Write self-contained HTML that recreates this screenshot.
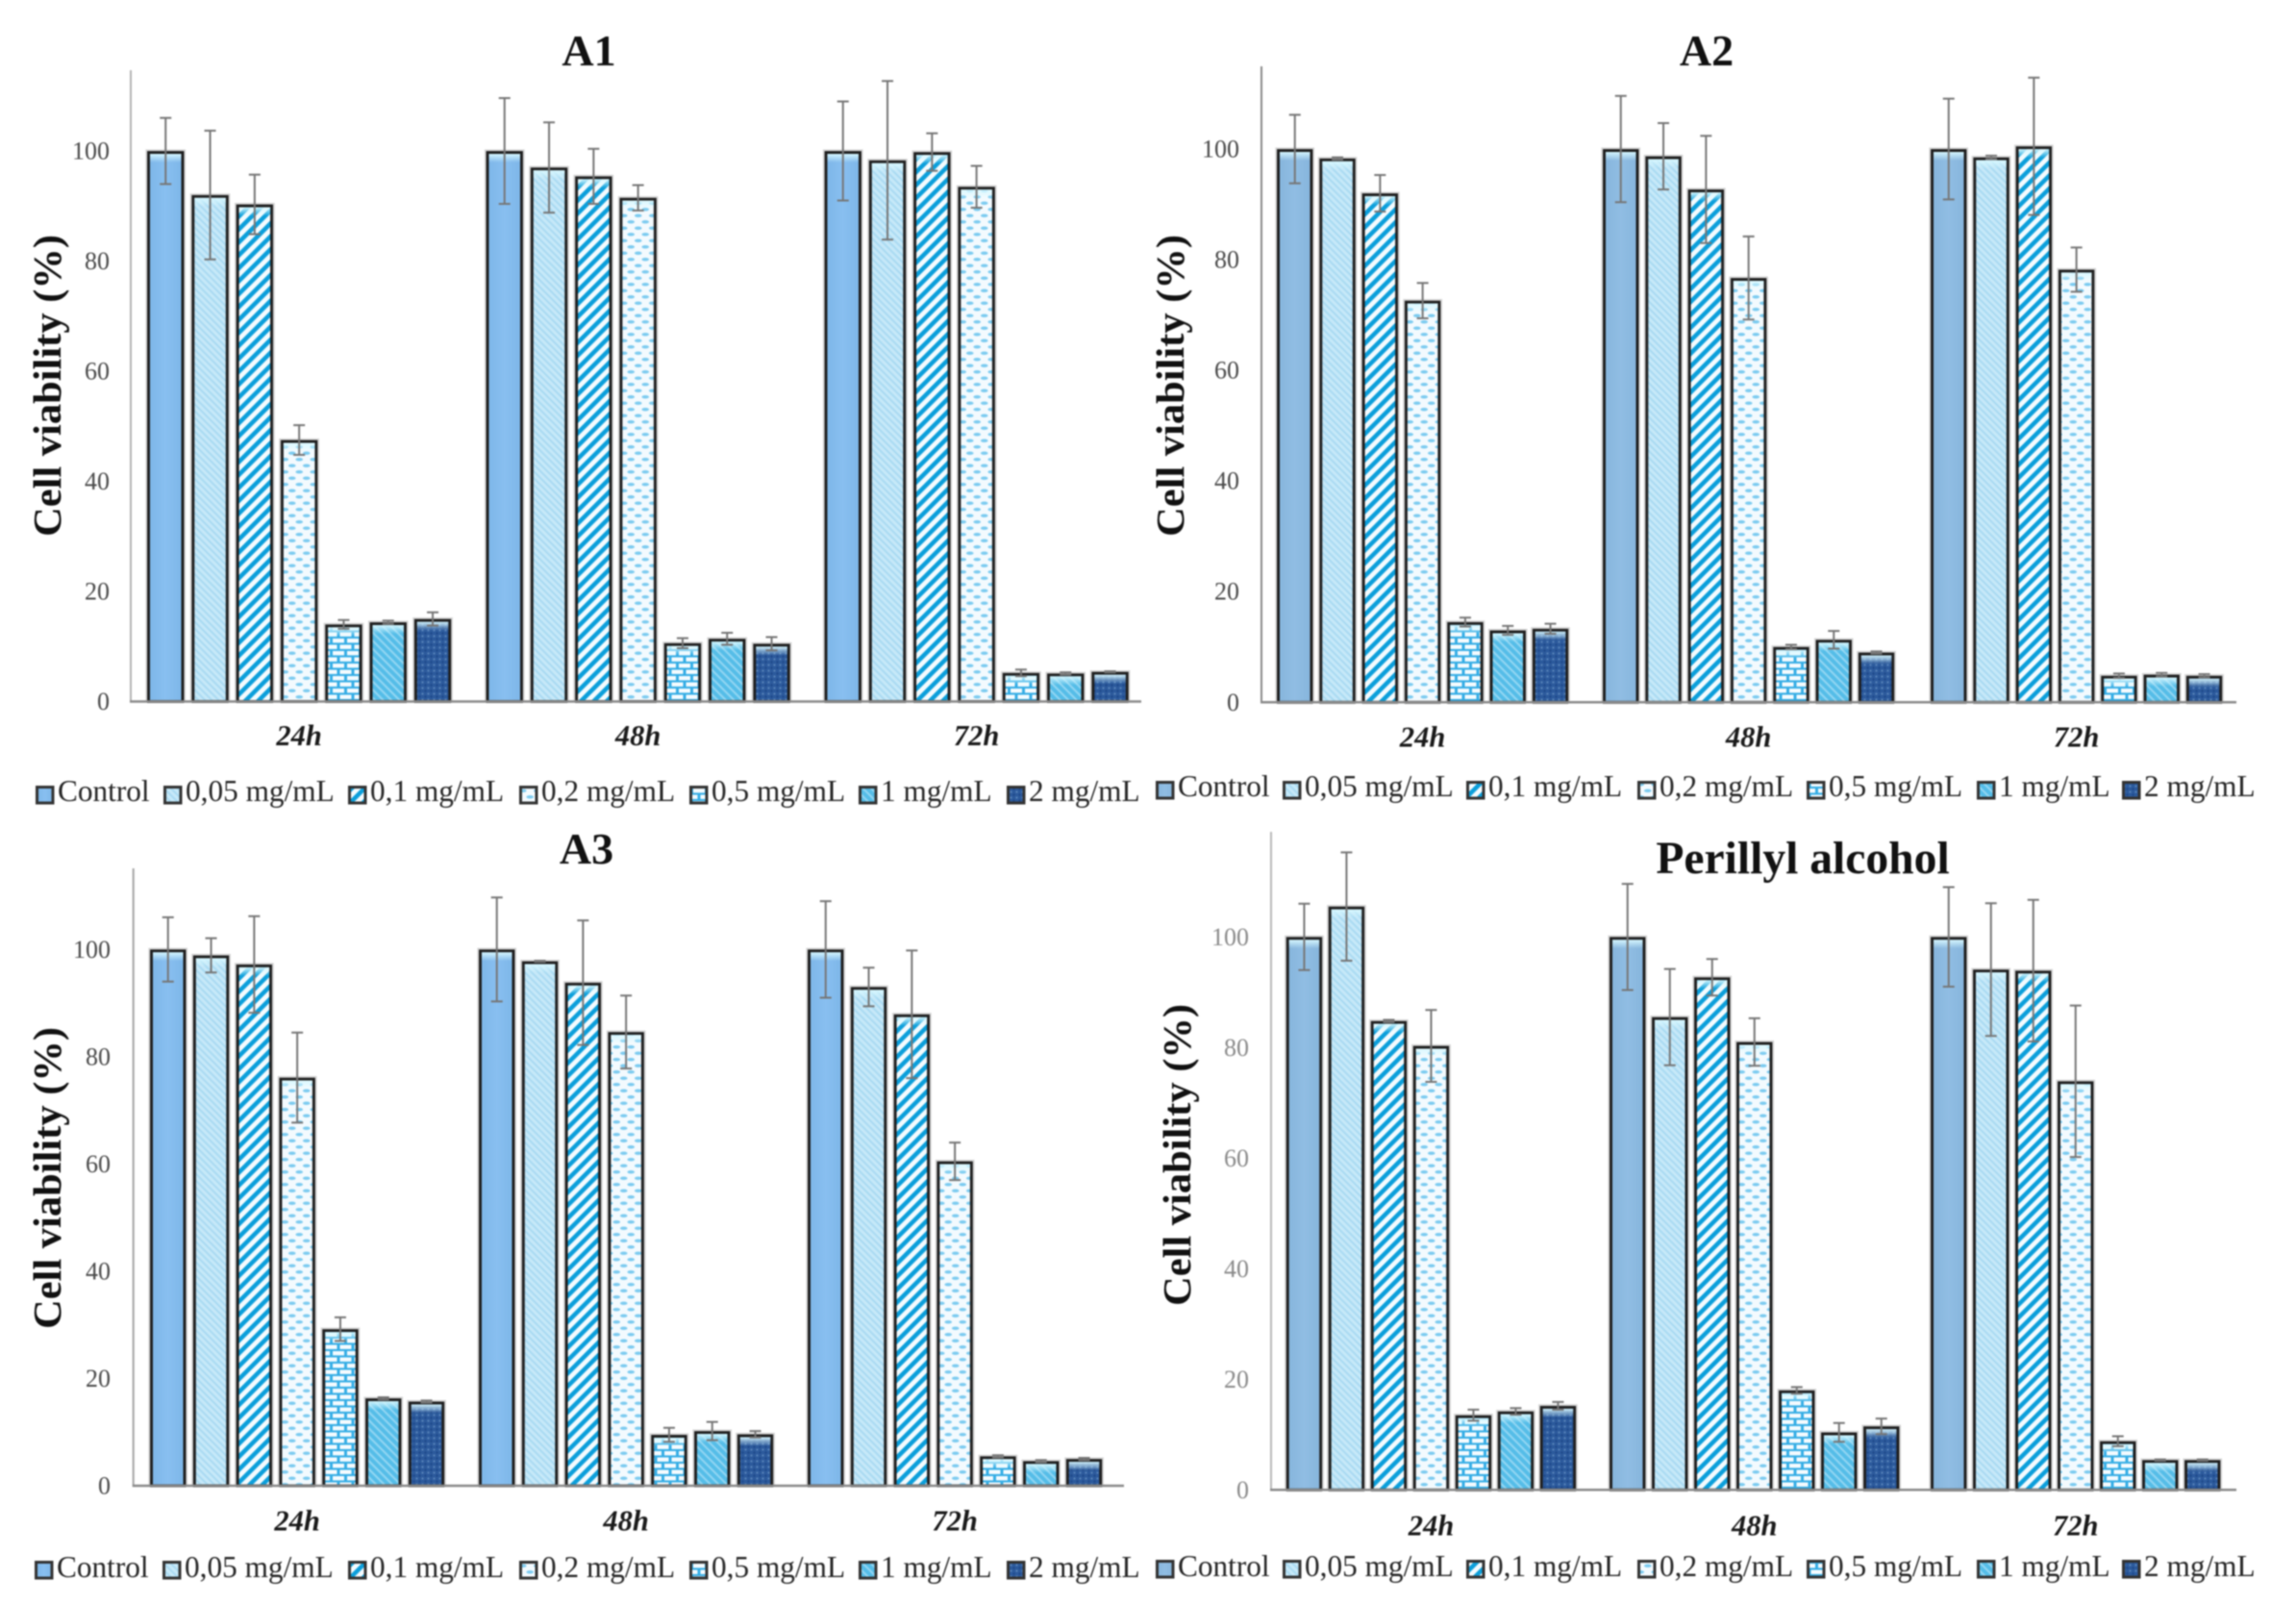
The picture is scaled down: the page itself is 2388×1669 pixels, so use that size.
<!DOCTYPE html>
<html lang="en">
<head>
<meta charset="utf-8">
<title>Cell viability charts</title>
<style>
html,body{margin:0;padding:0;background:#fff;}
#figure{display:block;filter:blur(0.8px);}
text{font-family:"Liberation Serif",serif;}
</style>
</head>
<body>
<svg id="figure" xmlns="http://www.w3.org/2000/svg" width="2388" height="1669" viewBox="0 0 2388 1669">
<defs>
<linearGradient id="control-a"><stop offset="0" stop-color="#7DB6E8"/><stop offset="0.5" stop-color="#88BFF0"/><stop offset="1" stop-color="#7DB6E8"/></linearGradient>
<linearGradient id="control-b"><stop offset="0" stop-color="#86B5DC"/><stop offset="0.5" stop-color="#90BDE3"/><stop offset="1" stop-color="#86B5DC"/></linearGradient>
<linearGradient id="top-glow" x1="0" y1="0" x2="0" y2="1"><stop offset="0" stop-color="#D8F8FF" stop-opacity="0.95"/><stop offset="1" stop-color="#D8F8FF" stop-opacity="0"/></linearGradient>
<pattern id="fill-s1" patternUnits="userSpaceOnUse" width="5" height="5" patternTransform="rotate(-45)"><rect width="5" height="5" fill="#C6E8F8"/><rect width="2" height="5" fill="#A9DAF2"/></pattern>
<pattern id="fill-s2" patternUnits="userSpaceOnUse" width="9.5" height="9.5" patternTransform="rotate(45)"><rect width="9.5" height="9.5" fill="#F4FBFE"/><rect width="4.6" height="9.5" fill="#0C9FDB"/></pattern>
<pattern id="fill-s3" patternUnits="userSpaceOnUse" width="15" height="13"><rect width="15" height="13" fill="#F3FAFE"/><ellipse cx="3.75" cy="3.25" rx="3.8" ry="1.8" fill="#7CCBF0"/><ellipse cx="11.25" cy="9.75" rx="3.8" ry="1.8" fill="#7CCBF0"/></pattern>
<pattern id="fill-s4" patternUnits="userSpaceOnUse" width="15" height="13"><rect width="15" height="13" fill="#35ADE5"/><rect x="1" y="1" width="12" height="4.4" fill="#F4FBFE"/><rect x="8.5" y="7.5" width="12" height="4.4" fill="#F4FBFE"/><rect x="-6.5" y="7.5" width="12" height="4.4" fill="#F4FBFE"/></pattern>
<pattern id="fill-s5" patternUnits="userSpaceOnUse" width="6" height="6" patternTransform="rotate(-45)"><rect width="6" height="6" fill="#55BDE8"/><rect width="2" height="6" fill="#93D6F2"/></pattern>
<pattern id="fill-s6" patternUnits="userSpaceOnUse" width="6" height="6"><rect width="6" height="6" fill="#2C5A9C"/><circle cx="1.5" cy="1.5" r="1.1" fill="#5A86BC"/><circle cx="4.5" cy="4.5" r="1.1" fill="#1D4688"/></pattern>
</defs>
</svg>
<script>
const categories = ['24h', '48h', '72h'];
const seriesNames = ['Control', '0,05 mg/mL', '0,1 mg/mL', '0,2 mg/mL', '0,5 mg/mL', '1 mg/mL', '2 mg/mL'];
const yTicks = [0, 20, 40, 60, 80, 100];

const a1Values = [
  [100, 92, 90.3, 47.5, 14, 14.4, 15],
  [100, 97, 95.4, 91.5, 10.6, 11.4, 10.5],
  [100, 98.3, 99.8, 93.5, 5.2, 5.1, 5.4]
];
const a1Errors = [
  [6, 11.7, 5.4, 2.7, 0.8, 0.3, 1.2],
  [9.6, 8.2, 5, 2.3, 0.9, 1.1, 1.2],
  [9, 14.4, 3.4, 3.8, 0.6, 0.2, 0.1]
];
const a2Values = [
  [100, 98.3, 92, 72.6, 14.5, 13, 13.3],
  [100, 98.7, 92.7, 76.7, 10, 11.3, 9],
  [100, 98.5, 100.5, 78.2, 4.8, 5, 4.8]
];
const a2Errors = [
  [6.2, 0.2, 3.3, 3.2, 0.8, 0.8, 0.9],
  [9.6, 6, 9.7, 7.5, 0.4, 1.6, 0.2],
  [9.1, 0.3, 12.4, 4, 0.4, 0.3, 0.3]
];
const a3Values = [
  [100, 98.9, 97.2, 76.1, 29.2, 16.3, 15.7],
  [100, 97.8, 93.8, 84.6, 9.5, 10.2, 9.6],
  [100, 93, 87.9, 60.5, 5.5, 4.6, 5]
];
const a3Errors = [
  [6, 3.2, 9, 8.4, 2.2, 0.2, 0.2],
  [9.7, 0.1, 11.6, 6.8, 1.3, 1.7, 0.6],
  [9, 3.6, 11.9, 3.5, 0.2, 0.2, 0.2]
];
const paValues = [
  [100, 105.5, 84.8, 80.3, 13.5, 14.2, 15.2],
  [100, 85.5, 92.7, 81, 18, 10.4, 11.5],
  [100, 94.1, 93.9, 73.9, 8.8, 5.4, 5.4]
];
const paErrors = [
  [6, 9.8, 0.2, 6.5, 1, 0.6, 0.7],
  [9.6, 8.7, 3.3, 4.3, 0.6, 1.7, 1.4],
  [9, 12, 12.8, 13.7, 0.9, 0.1, 0.1]
];

const panels = [
  {id:'a1', title:'A1', titleSize:46, values:a1Values, errors:a1Errors,
   axisX:136, axisTop:73, axisRight:1187, baseY:729.5, unit:5.725,
   groupX:[153,505.5,857.5], barPitch:46.3, barW:38.5,
   titleX:612.5, titleY:68, tickX:114, tickFill:'#4a4a4a', axisFill:'#b4b4b4',
   yTitleX:63, yTitleY:558, catY:775, legendX:[37,170,362,540,717,893,1047], legendY:817, legendText:833, control:'url(#control-a)'},
  {id:'a2', title:'A2', titleSize:46, values:a2Values, errors:a2Errors,
   axisX:1312, axisTop:69, axisRight:2326, baseY:730.3, unit:5.753,
   groupX:[1328,1667,2008], barPitch:44.3, barW:37.5,
   titleX:1775, titleY:68, tickX:1289, tickFill:'#4a4a4a', axisFill:'#8a8a8a',
   yTitleX:1231, yTitleY:558, catY:776.7, legendX:[1202,1334,1525,1703,1879,2056,2207], legendY:812, legendText:828, control:'url(#control-b)'},
  {id:'a3', title:'A3', titleSize:46, values:a3Values, errors:a3Errors,
   axisX:138.7, axisTop:903, axisRight:1169, baseY:1545, unit:5.577,
   groupX:[156,498,840], barPitch:44.8, barW:37.5,
   titleX:610, titleY:898, tickX:115, tickFill:'#4a4a4a', axisFill:'#a4a4a4',
   yTitleX:63, yTitleY:1382, catY:1591.7, legendX:[36,169,362,540,717,893,1047], legendY:1623, legendText:1640, control:'url(#control-a)'},
  {id:'pa', title:'Perillyl alcohol', titleSize:47.6, values:paValues, errors:paErrors,
   axisX:1322, axisTop:865, axisRight:2326, baseY:1549.3, unit:5.75,
   groupX:[1337.7,1674,2008], barPitch:44, barW:37.5,
   titleX:1875, titleY:908, tickX:1299, tickFill:'#8a8a8a', axisFill:'#b8b8b8',
   yTitleX:1238, yTitleY:1358, catY:1596.7, legendX:[1202,1334,1525,1703,1879,2056,2207], legendY:1622, legendText:1639, control:'url(#control-b)'}
];

const svgNS = 'http://www.w3.org/2000/svg';
const root = document.getElementById('figure');

function make(tag, attrs, parent, text) {
  const node = document.createElementNS(svgNS, tag);
  for (const k in attrs) node.setAttribute(k, attrs[k]);
  if (text !== undefined) node.textContent = text;
  parent.appendChild(node);
  return node;
}

function seriesFill(panel, s) {
  return s === 0 ? panel.control : 'url(#fill-s' + s + ')';
}

panels.forEach(function (p) {
  const yScale = function (v) { return p.baseY - v * p.unit; };
  const xScale = function (g, s) { return p.groupX[g] + s * p.barPitch; };

  const chart = make('g', {}, root);
  
  

  let el = make('text', {x:p.titleX, y:p.titleY, 'text-anchor':'middle', 'font-size':p.titleSize, 'font-weight':'bold', fill:'#111'}, chart, p.title);
  
  

  el = make('text', {transform:'translate(' + p.yTitleX + ',' + p.yTitleY + ') rotate(-90)', 'font-size':41, 'font-weight':'bold', fill:'#111', textLength:314, lengthAdjust:'spacingAndGlyphs'}, chart, 'Cell viability (%)');
  
  

  el = make('line', {x1:p.axisX, x2:p.axisX, y1:p.axisTop, y2:p.baseY, stroke:p.axisFill, 'stroke-width':2}, chart);
  
  

  yTicks.forEach(function (t) {
    const tick = make('text', {x:p.tickX, y:yScale(t) + 8.5, 'text-anchor':'end', 'font-size':26, fill:p.tickFill}, chart, String(t));
    
    
  });

  p.values.forEach(function (groupVals, g) {
    groupVals.forEach(function (v, s) {
      const x = xScale(g, s);
      const top = yScale(v);
      const h = p.baseY - top;

      const halo = make('rect', {x:x - 1, y:top - 1, width:p.barW + 2, height:h + 1, fill:'none', stroke:'#c8c8c8', 'stroke-width':1}, chart);
      
      

      const bar = make('rect', {x:x + 1.5, y:top + 1.5, width:p.barW - 3, height:h - 1.5, fill:seriesFill(p, s), stroke:'#1f1f1f', 'stroke-width':3}, chart);
      
      

      const glow = make('rect', {x:x + 3, y:top + 3, width:p.barW - 6, height:Math.min(9, h - 3), fill:'url(#top-glow)'}, chart);
      
      
    });
  });

  el = make('line', {x1:p.axisX - 1, x2:p.axisRight, y1:p.baseY, y2:p.baseY, stroke:'#8a8a8a', 'stroke-width':2.5}, chart);
  
  

  p.values.forEach(function (groupVals, g) {
    groupVals.forEach(function (v, s) {
      const cx = xScale(g, s) + p.barW / 2;
      const e = p.errors[g][s];
      const hi = yScale(v + e);
      const lo = yScale(v - e);
      const err = make('path', {d:'M' + cx + ' ' + hi + 'V' + lo + 'M' + (cx - 6) + ' ' + hi + 'H' + (cx + 6) + 'M' + (cx - 6) + ' ' + lo + 'H' + (cx + 6), fill:'none', stroke:'#767676', 'stroke-width':2}, chart);
      
      
    });
  });

  categories.forEach(function (c, g) {
    const center = p.groupX[g] + (6 * p.barPitch + p.barW) / 2;
    const label = make('text', {x:center, y:p.catY, 'text-anchor':'middle', 'font-size':30.5, 'font-weight':'bold', 'font-style':'italic', fill:'#1a1a1a'}, chart, c);
    
    
  });

  seriesNames.forEach(function (name, s) {
    const entry = make('g', {}, chart);
    
    

    const sw = make('rect', {x:p.legendX[s] + 1.5, y:p.legendY + 1.5, width:16.5, height:16.5, fill:seriesFill(p, s), stroke:'#333', 'stroke-width':3}, entry);
    
    

    const txt = make('text', {x:p.legendX[s] + 23, y:p.legendText, 'font-size':31.3, fill:'#262626'}, entry, name);
    
    
  });
});
</script>
</body>
</html>
